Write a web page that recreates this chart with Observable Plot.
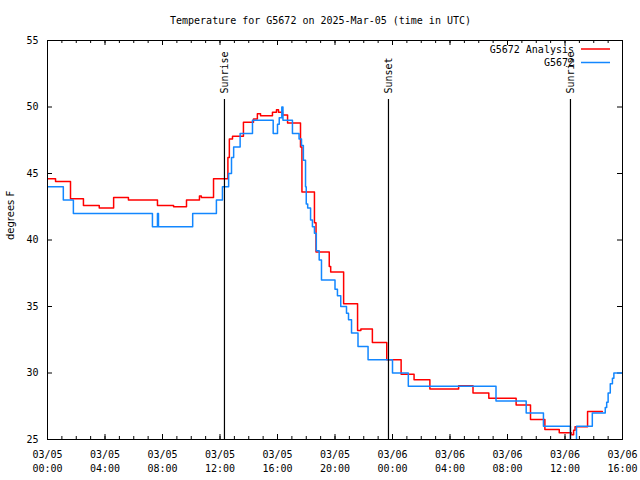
<!DOCTYPE html>
<html><head><meta charset="utf-8">
<script src="https://cdn.jsdelivr.net/npm/d3@7"></script>
<script src="https://cdn.jsdelivr.net/npm/@observablehq/plot@0.6"></script>
<style>body{margin:0;background:#fff} #chart{width:640px;height:480px}</style>
</head><body><div id="chart"></div>
<script>
const titleText = "Temperature for G5672 on 2025-Mar-05 (time in UTC)";
const yLabelText = "degrees F";
const startUTC = "2025-03-05T00:00:00Z";
const seriesNames = ["G5672 Analysis", "G5672"];
const seriesColors = ["#ff0000", "#1387ff"];

// Analysis (red): hours since start, temperature (step-after)
const analysisHours = [0, 0.56, 1.6, 2.5, 3.6, 4.6, 5.63, 7.65, 8.77, 9.67, 10.57, 10.7, 11.55, 12.55, 12.65, 12.87,
  13.63, 14.33, 14.6, 14.82, 15.65, 15.93, 16.07, 16.35, 16.7, 17.6, 17.7, 18.57, 18.68, 19.6, 19.7, 20.6, 21.57, 21.8,
  22.6, 23.6, 24.6, 25.5, 26.6, 28.6, 29.6, 30.7, 32.6, 33.6, 34.6, 35.6, 36.45, 36.6, 36.7, 37.57, 38.6];
const analysisTemps = [44.6, 44.4, 43.1, 42.6, 42.4, 43.2, 43.0, 42.6, 42.5, 43.0, 43.3, 43.2, 44.6, 46.2, 47.6, 47.8,
  48.85, 49.1, 49.5, 49.35, 49.6, 49.8, 49.6, 49.4, 48.8, 47.0, 43.6, 41.3, 39.1, 38.0, 37.6, 35.2, 33.2, 33.3,
  32.3, 31.0, 29.9, 29.5, 28.8, 29.05, 28.5, 28.1, 27.6, 26.5, 25.75, 25.5, 25.35, 25.7, 25.95, 27.1, 27.1];

// Station G5672 (blue)
const stationHours = [0, 1.1, 1.8, 7.3, 7.65, 7.72, 10.1, 11.75, 12.17, 12.6, 12.8, 12.95, 13.4, 14.26, 15.7, 16.0,
  16.12, 16.3, 16.38, 17.04, 17.5, 17.67, 17.8, 17.95, 18.0, 18.1, 18.3, 18.43, 18.57, 18.7, 18.9, 19.06, 20.0, 20.17,
  20.4, 20.8, 20.94, 21.15, 21.6, 22.3, 24.0, 25.1, 31.2, 33.3, 34.5, 36.38, 36.8, 37.9, 38.8, 38.9, 39.0, 39.15,
  39.3, 39.4, 40];
const stationTemps = [44.0, 43.0, 42.0, 41.0, 42.0, 41.0, 42.0, 43.0, 44.0, 45.0, 46.2, 47.0, 48.0, 49.0, 48.0, 48.7,
  49.2, 50.0, 49.0, 48.0, 47.6, 47.1, 46.0, 44.0, 42.7, 42.4, 41.5, 41.0, 40.5, 39.2, 38.5, 37.0, 36.3, 35.8,
  35.0, 34.5, 34.0, 33.0, 32.0, 31.0, 30.0, 29.0, 27.9, 27.0, 26.0, 24.5, 26.0, 27.0, 27.4, 27.8, 28.5, 29.2,
  29.6, 30.0, 30.0];

const eventHours = [12.31, 23.72, 36.38];
const eventLabels = ["Sunrise", "Sunset", "Sunrise"];
const xTickHours = [0, 4, 8, 12, 16, 20, 24, 28, 32, 36, 40];
const xMinorHours = d3.range(0, 41, 1);
const yTicks = [25, 30, 35, 40, 45, 50, 55];

const t0 = Date.parse(startUTC);
const toDate = h => new Date(t0 + h * 3600e3);
const analysis = analysisHours.map((h, i) => ({time: toDate(h), temp: analysisTemps[i]}));
const station = stationHours.map((h, i) => ({time: toDate(h), temp: stationTemps[i]}));
const events = eventHours.map((h, i) => ({time: toDate(h), label: eventLabels[i]}));

const W = 640, H = 480, mL = 47, mR = 18, mT = 40, mB = 41;
const frameW = W - mL - mR, frameH = H - mT - mB;
const mono = "'DejaVu Sans Mono', monospace";
const fmt = d3.utcFormat("%m/%d\n%H:%M");

const plot = Plot.plot({
  width: W, height: H,
  marginLeft: mL, marginRight: mR, marginTop: mT, marginBottom: mB,
  style: {fontFamily: mono, fontSize: "10px", background: "white", color: "black"},
  x: {type: "utc", domain: [toDate(0), toDate(40)]},
  y: {domain: [25, 55]},
  marks: [
    Plot.axisX(xTickHours.map(toDate), {tickSize: 0, tickPadding: 9, tickFormat: fmt, lineHeight: 1.4, fontSize: 10, label: null}),
    Plot.axisY(yTicks, {tickSize: 0, tickPadding: 9, fontSize: 10, label: null}),
    // minor & major ticks, bottom and top
    Plot.tickX(xMinorHours.map(toDate), {x: d => d, insetTop: frameH - 3, stroke: "black"}),
    Plot.tickX(xMinorHours.map(toDate), {x: d => d, insetBottom: frameH - 3, stroke: "black"}),
    Plot.tickX(xTickHours.map(toDate), {x: d => d, insetTop: frameH - 5, stroke: "black"}),
    Plot.tickX(xTickHours.map(toDate), {x: d => d, insetBottom: frameH - 5, stroke: "black"}),
    Plot.tickY(yTicks, {y: d => d, insetRight: frameW - 5, stroke: "black"}),
    Plot.tickY(yTicks, {y: d => d, insetLeft: frameW - 5, stroke: "black"}),
    Plot.line(analysis, {x: "time", y: "temp", curve: "step-after", stroke: seriesColors[0], strokeWidth: 1.5, clip: true}),
    Plot.line(station, {x: "time", y: "temp", curve: "step-after", stroke: seriesColors[1], strokeWidth: 1.5, clip: true}),
    Plot.ruleX(events, {x: "time", insetTop: 59, stroke: "black", strokeWidth: 1.2}),
    Plot.text(events, {x: "time", text: "label", frameAnchor: "top", dy: 53, rotate: -90, textAnchor: "start", lineAnchor: "middle", fontSize: 10, fill: "black"}),
    Plot.frame({stroke: "black"}),
    Plot.text([titleText], {text: d => d, frameAnchor: "top", dx: -14.5, dy: -20, lineAnchor: "middle", fontSize: 10, fill: "black"}),
    Plot.text([yLabelText], {text: d => d, frameAnchor: "left", dx: -37, rotate: -90, lineAnchor: "middle", fontSize: 10, fontFamily: "'DejaVu Sans', sans-serif", fill: "black"})
  ]
});

// legend (top-right inside frame)
const svg = d3.select(plot);
const xr = W - mR;
seriesNames.forEach((name, i) => {
  const y = mT + 9 + 13.5 * i;
  svg.append("text").attr("x", xr - 48).attr("y", y + 0.5).attr("dy", "0.32em")
    .attr("text-anchor", "end").attr("font-family", mono).attr("font-size", 10).attr("fill", "black").text(name);
  svg.append("line").attr("x1", xr - 41).attr("x2", xr - 12).attr("y1", y).attr("y2", y)
    .attr("stroke", seriesColors[i]).attr("stroke-width", 1.5);
});
document.getElementById("chart").appendChild(plot);
</script>
</body></html>
